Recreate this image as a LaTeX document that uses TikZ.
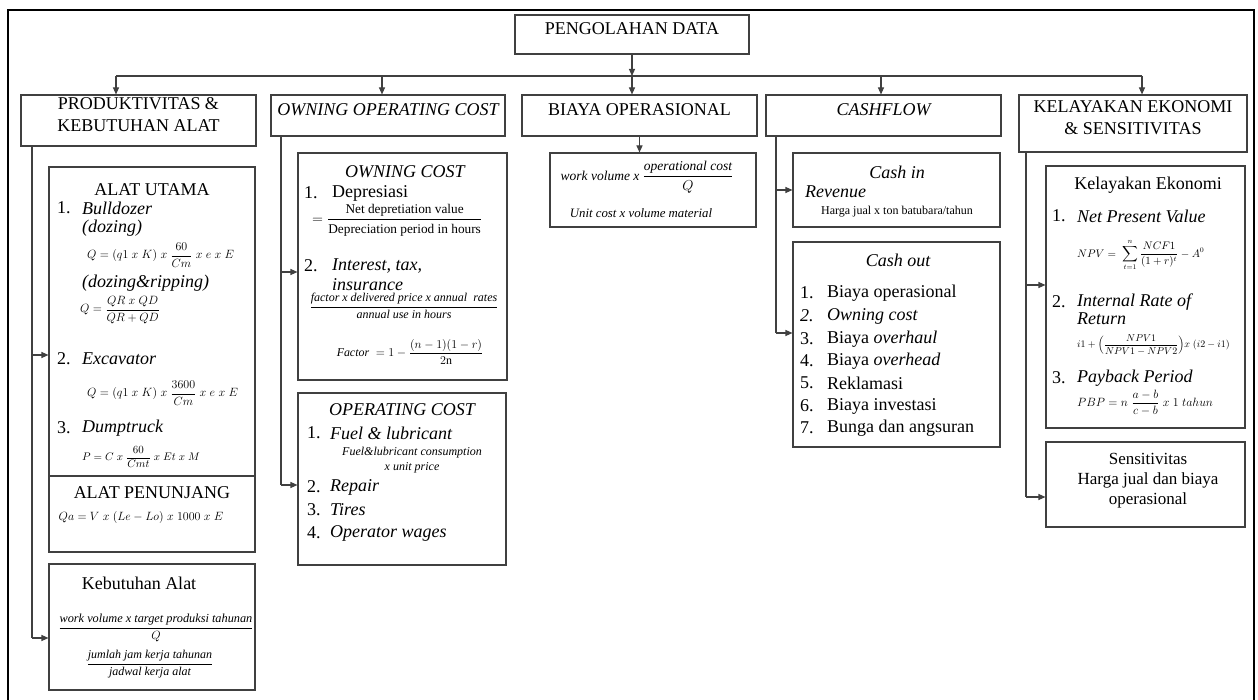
\documentclass[tikz,border=0pt]{standalone}
\usepackage{amsmath}
\usepackage{fontspec}
\setmainfont{Liberation Serif}
\usetikzlibrary{arrows.meta,fit}
\begin{document}
\begin{tikzpicture}[x=1pt,y=-1pt,
  box/.style={draw=black!75, line width=1.1pt, inner sep=0pt},
  conn/.style={draw=black!75, line width=1.1pt},
  arr/.style={conn,-{Triangle[length=7pt,width=6pt]}},
  hd/.style={font=\fontsize{18}{22}\selectfont, align=center},
  tx/.style={font=\fontsize{18}{20}\selectfont, inner sep=0pt, anchor=west},
  tc/.style={font=\fontsize{18}{20}\selectfont, inner sep=0pt, align=center},
  sm/.style={font=\fontsize{12}{15}\selectfont, inner sep=0pt, align=center},
  fm/.style={font=\fontsize{#1}{#1}\selectfont, inner sep=0pt},
  fm/.default=11,
]
\useasboundingbox (0,0) rectangle (1258,700);
\fill[white] (0,0) rectangle (1258,700);
% outer frame
\coordinate (fbl) at (8,700); \coordinate (ftl) at (8,10);
\coordinate (ftr) at (1254,10); \coordinate (fbr) at (1254,700);
\draw[line width=2.2pt, line join=miter] (fbl) -- (ftl) -- (ftr) -- (fbr);

% root and headers
\node[box,hd,fit={(515,15)(749,54)}] (root) {PENGOLAHAN DATA};
\node[box,hd,fit={(21,95)(256,146)}] (h1) {PRODUKTIVITAS \&\\KEBUTUHAN ALAT};
\node[box,hd,fit={(271,95)(505,136)}] (h2) {\itshape OWNING OPERATING COST};
\node[box,hd,fit={(522,95)(757,136)}] (h3) {BIAYA OPERASIONAL};
\node[box,hd,fit={(766,95)(1001,136)}] (h4) {\itshape CASHFLOW};
\node[box,hd,fit={(1019,95)(1247,152)}] (h5) {KELAYAKAN EKONOMI\\\& SENSITIVITAS};

% bus
\coordinate (bus) at (632,76);
\coordinate (busL) at (116,76); \coordinate (b2) at (382,76);
\coordinate (b4) at (881,76); \coordinate (busR) at (1142,76);
\draw[conn] (busL) -- (busR);
\draw[arr] (root.south -| bus) -- (bus);
\draw[arr] (busL) -- (busL |- h1.north);
\draw[arr] (b2) -- (b2 |- h2.north);
\draw[arr] (bus) -- (bus |- h3.north);
\draw[arr] (b4) -- (b4 |- h4.north);
\draw[arr] (busR) -- (busR |- h5.north);

% ===== column 1
\node[box, fit={(49,167)(255,552)}] (alat) {};
\coordinate (dv) at (49,476);
\draw[conn] (dv) -- (dv -| alat.east);
\node[box, fit={(49,564)(255,690)}] (keb) {};
\coordinate (t1) at (32,146); \coordinate (a1) at (32,355); \coordinate (k1) at (32,638);
\draw[conn] (t1) -- (k1);
\draw[arr] (a1) -- (a1 -| alat.west);
\draw[arr] (k1) -- (k1 -| keb.west);

\node[tc] (au) at (152,190) {ALAT UTAMA};
\node[tx] (n11) at (57,208) {1.};
\node[tx] (bd) at (82,208) {\itshape Bulldozer};
\node[tx] (dz) at (82,228) {\itshape (dozing)};
\node[fm=11.8,anchor=west] (f1) at (87,255) {$Q=(q1\;x\;K)\;x\;\dfrac{60}{Cm}\;x\;e\;x\;E$};
\node[tx] (dr) at (82,283) {\itshape (dozing\&ripping)};
\node[fm=11.8,anchor=west] (f2) at (80,310) {$Q=\dfrac{QR\;x\;QD}{QR+QD}$};
\node[tx] (n12) at (57,359) {2.};
\node[tx] (ex) at (82,359) {\itshape Excavator};
\node[fm=11.8,anchor=west] (f3) at (87,393) {$Q=(q1\;x\;K)\;x\;\dfrac{3600}{Cm}\;x\;e\;x\;E$};
\node[tx] (n13) at (57,428) {3.};
\node[tx] (dt) at (82,428) {\itshape Dumptruck};
\node[fm] (f4) at (141,457) {$P=C\;x\;\dfrac{60}{Cmt}\;x\;Et\;x\;M$};
\node[tc] (ap) at (152,493) {ALAT PENUNJANG};
\node[fm=11.6] (f5) at (141,517) {$Qa=V\;x\;(Le-Lo)\;x\;1000\;x\;E$};
\node[tc] (ka) at (139,583) {Kebutuhan Alat};
\node[fm=12.3] (f6) at (156,628) {$\dfrac{\textit{work volume x target produksi tahunan}}{Q}$};
\node[fm=12] (f7) at (150,664) {$\dfrac{\textit{jumlah jam kerja tahunan}}{\textit{jadwal kerja alat}}$};

% ===== column 2
\node[box, fit={(298,153)(507,380)}] (own) {};
\node[box, fit={(298,393)(506,565)}] (opc) {};
\coordinate (t2) at (281,136); \coordinate (o1) at (281,272); \coordinate (o2) at (281,485);
\draw[conn] (t2) -- (o2);
\draw[arr] (o1) -- (o1 -| own.west);
\draw[arr] (o2) -- (o2 -| opc.west);

\node[tc] (oc) at (405,172) {\itshape OWNING COST};
\node[tx] (n21) at (304,193) {1.};
\node[tx] (dep) at (332,193) {Depresiasi};
\node[fm=13.3,anchor=west] (f8) at (312,220) {$=\dfrac{\text{Net depretiation value}}{\text{Depreciation period in hours}}$};
\node[tx] (n22) at (304,266) {2.};
\node[tx] (itx) at (332,266) {\itshape Interest, tax,};
\node[tx] (ins) at (332,285) {\itshape insurance};
\node[fm=12] (f9) at (404,306) {$\dfrac{\textit{factor x delivered price x annual\ \ rates}}{\textit{annual use in hours}}$};
\node[fm=11.9] (f10) at (410,352) {$\mathit{Factor}\;=1-\dfrac{(n-1)(1-r)}{2\mathrm{n}}$};

\node[tc] (opt) at (402,410) {\itshape OPERATING COST};
\node[tx] (n31) at (307,433) {1.};
\node[tx] (fl) at (330,433) {\itshape Fuel \& lubricant};
\node[sm] (flc) at (412,460) {\itshape Fuel\&lubricant consumption\\\itshape x unit price};
\node[tx] (n32) at (307,487) {2.};
\node[tx] (rp) at (330,487) {\itshape Repair};
\node[tx] (n33) at (307,510) {3.};
\node[tx] (tr) at (330,510) {\itshape Tires};
\node[tx] (n34) at (307,533) {4.};
\node[tx] (ow) at (330,533) {\itshape Operator wages};

% ===== column 3
\node[box, fit={(550,153)(756,227)}] (bo) {};
\draw[arr] (h3.south) -- (h3.south |- bo.north);
\node[fm=13.5] (f11) at (647,177) {$\textit{work volume x }\dfrac{\textit{operational cost}}{Q}$};
\node[fm=12.8] (uc) at (641,213) {\itshape Unit cost x volume material};

% ===== column 4
\node[box, fit={(793,153)(1000,227)}] (ci) {};
\node[box, fit={(793,242)(1000,447)}] (co) {};
\coordinate (t4) at (776,136); \coordinate (c1) at (776,190); \coordinate (c2) at (776,333);
\draw[conn] (t4) -- (c2);
\draw[arr] (c1) -- (c1 -| ci.west);
\draw[arr] (c2) -- (c2 -| co.west);

\node[tc] (cin) at (897,172) {\itshape Cash in};
\node[tx] (rev) at (805,192) {\itshape Revenue};
\node[sm] (hj) at (897,212) {Harga jual x ton batubara/tahun};
\node[tc] (cout) at (898,260) {\itshape Cash out};
\node[tx] (m1) at (800,293) {1.}; \node[tx] (i1) at (827,293) {Biaya operasional};
\node[tx] (m2) at (800,316) {\itshape 2.}; \node[tx] (i2) at (827,316) {\itshape Owning cost};
\node[tx] (m3) at (800,339) {3.}; \node[tx] (i3) at (827,339) {Biaya \textit{overhaul}};
\node[tx] (m4) at (800,361) {4.}; \node[tx] (i4) at (827,361) {Biaya \textit{overhead}};
\node[tx] (m5) at (800,383) {5.}; \node[tx] (i5) at (827,383) {Reklamasi};
\node[tx] (m6) at (800,406) {6.}; \node[tx] (i6) at (827,406) {Biaya investasi};
\node[tx] (m7) at (800,428) {7.}; \node[tx] (i7) at (827,428) {Bunga dan angsuran};

% ===== column 5
\node[box, fit={(1046,166)(1245,428)}] (ke) {};
\node[box, fit={(1046,442)(1245,527)}] (se) {};
\coordinate (t5) at (1026,152); \coordinate (e1) at (1026,285); \coordinate (e2) at (1026,497);
\draw[conn] (t5) -- (e2);
\draw[arr] (e1) -- (e1 -| ke.west);
\draw[arr] (e2) -- (e2 -| se.west);

\node[tc] (kek) at (1148,185) {Kelayakan Ekonomi};
\node[tx] (q1) at (1052,216) {1.}; \node[tx] (npv) at (1077,216) {\itshape Net Present Value};
\node[fm=10.5,anchor=west] (f12) at (1077,255) {$NPV=\;\displaystyle\sum_{t=1}^{n}\frac{NCF1}{(1+r)^{t}}-A^{0}$};
\node[tx] (q2) at (1052,302) {2.}; \node[tx] (irr) at (1077,302) {\itshape Internal Rate of};
\node[tx] (ret) at (1077,319) {\itshape Return};
\node[fm=10,anchor=west] (f13) at (1077,345) {$i1+\Bigl(\dfrac{NPV1}{NPV1-NPV2}\Bigr)x\;(i2-i1)$};
\node[tx] (q3) at (1052,378) {3.}; \node[tx] (pbp) at (1077,378) {\itshape Payback Period};
\node[fm=11.6,anchor=west] (f14) at (1077,403) {$PBP=n\;\dfrac{a-b}{c-b}\;x\;1\;tahun$};

\node[tc,font=\fontsize{17}{20}\selectfont] (sen) at (1148,481) {Sensitivitas\\Harga jual dan biaya\\operasional};
\end{tikzpicture}
\end{document}
